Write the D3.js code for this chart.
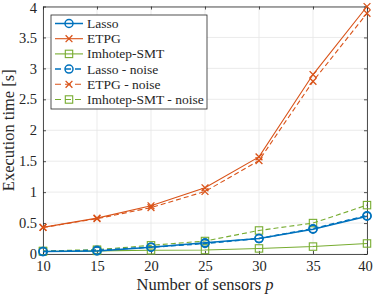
<!DOCTYPE html>
<html><head><meta charset="utf-8">
<script src="https://cdn.jsdelivr.net/npm/d3@7"></script>
<style>body{margin:0;background:#fff}svg{display:block}text{font-family:"Liberation Serif","DejaVu Serif",serif;fill:#262626}</style>
</head><body><svg id="c" width="374" height="295"></svg>
<script>
const sensors = [10, 15, 20, 25, 30, 35, 40];
const lasso = [0.04, 0.05, 0.11, 0.18, 0.25, 0.40, 0.61];
const etpg = [0.43, 0.58, 0.78, 1.07, 1.57, 2.90, 4.00];
const imhotep = [0.04, 0.05, 0.06, 0.065, 0.09, 0.12, 0.17];
const lassoNoise = [0.04, 0.06, 0.11, 0.17, 0.25, 0.41, 0.62];
const etpgNoise = [0.43, 0.57, 0.75, 1.01, 1.51, 2.79, 3.89];
const imhotepNoise = [0.05, 0.07, 0.14, 0.21, 0.38, 0.50, 0.79];
const xTicks = [10, 15, 20, 25, 30, 35, 40];
const yTicks = [0, 0.5, 1, 1.5, 2, 2.5, 3, 3.5, 4];
const seriesNames = ["Lasso", "ETPG", "Imhotep-SMT", "Lasso - noise", "ETPG - noise", "Imhotep-SMT - noise"];

const series = [
  {name: seriesNames[0], vals: lasso, color: "#0072BD", marker: "o", dash: null, w: 1.5},
  {name: seriesNames[1], vals: etpg, color: "#D95319", marker: "x", dash: null, w: 1.1},
  {name: seriesNames[2], vals: imhotep, color: "#77AC30", marker: "s", dash: null, w: 1.1},
  {name: seriesNames[3], vals: lassoNoise, color: "#0072BD", marker: "o", dash: "5,3", w: 1.5},
  {name: seriesNames[4], vals: etpgNoise, color: "#D95319", marker: "x", dash: "5,3", w: 1.1},
  {name: seriesNames[5], vals: imhotepNoise, color: "#77AC30", marker: "s", dash: "5,3", w: 1.1}
];

const L = 43, R = 367, T = 6.5, B = 254;
const x = d3.scaleLinear().domain([10, 40]).range([L, R]);
const y = d3.scaleLinear().domain([0, 4]).range([B, T]);
const svg = d3.select("#c");

// grid
const g = svg.append("g");
g.selectAll(".gx").data(xTicks).enter().append("line")
  .attr("x1", d => x(d)).attr("x2", d => x(d)).attr("y1", T).attr("y2", B)
  .attr("stroke", "#e6e6e6").attr("stroke-width", 0.8);
g.selectAll(".gy").data(yTicks).enter().append("line")
  .attr("y1", d => y(d)).attr("y2", d => y(d)).attr("x1", L).attr("x2", R)
  .attr("stroke", "#e6e6e6").attr("stroke-width", 0.8);

// axes
const fmt = d => String(d);
const ax = svg.append("g").attr("transform", `translate(0,${B})`)
  .call(d3.axisBottom(x).tickValues(xTicks).tickFormat(fmt).tickSizeInner(-3).tickSizeOuter(0).tickPadding(7));
const axT = svg.append("g").attr("transform", `translate(0,${T})`)
  .call(d3.axisTop(x).tickValues(xTicks).tickFormat("").tickSizeInner(-3).tickSizeOuter(0));
const ay = svg.append("g").attr("transform", `translate(${L},0)`)
  .call(d3.axisLeft(y).tickValues(yTicks).tickFormat(fmt).tickSizeInner(-3).tickSizeOuter(0).tickPadding(6));
const ayR = svg.append("g").attr("transform", `translate(${R},0)`)
  .call(d3.axisRight(y).tickValues(yTicks).tickFormat("").tickSizeInner(-3).tickSizeOuter(0));
[ax, axT, ay, ayR].forEach(a => {
  a.selectAll("path").attr("stroke", "#262626").attr("stroke-width", 0.8);
  a.selectAll("line").attr("stroke", "#262626").attr("stroke-width", 0.8);
  a.selectAll("text").attr("font-size", 14.5).attr("font-family", "Liberation Serif, serif").attr("fill", "#262626");
});
// keep the end labels inside the window
ax.selectAll(".tick text").filter(d => d === 40).attr("dx", "-2");
ay.selectAll(".tick text").filter(d => d === 4).attr("dy", "0.42em");

// lines
const line = d3.line().x((d, i) => x(sensors[i])).y(d => y(d));

function drawMarker(sel, m, color, cx, cy) {
  if (m === "o") {
    sel.append("circle").attr("cx", cx).attr("cy", cy).attr("r", 4)
      .attr("fill", "none").attr("stroke", color).attr("stroke-width", 1.5);
  } else if (m === "s") {
    sel.append("rect").attr("x", cx - 3.7).attr("y", cy - 3.7).attr("width", 7.4).attr("height", 7.4)
      .attr("fill", "none").attr("stroke", color).attr("stroke-width", 1.1);
  } else {
    const s = 3.4;
    sel.append("path").attr("d", `M${cx - s},${cy - s}L${cx + s},${cy + s}M${cx - s},${cy + s}L${cx + s},${cy - s}`)
      .attr("stroke", color).attr("stroke-width", 1.3).attr("fill", "none");
  }
}

const order = [2, 5, 1, 4, 0, 3];
order.forEach(i => {
  const s = series[i];
  const gg = svg.append("g");
  gg.append("path").datum(s.vals).attr("d", line).attr("fill", "none")
    .attr("stroke", s.color).attr("stroke-width", s.w)
    .attr("stroke-dasharray", s.dash);
  s.vals.forEach((v, j) => drawMarker(gg, s.marker, s.color, x(sensors[j]), y(v)));
});

// legend
const lx = 51, ly = 15, lw = 156, lh = 94;
const lg = svg.append("g");
lg.append("rect").attr("x", lx).attr("y", ly).attr("width", lw).attr("height", lh)
  .attr("fill", "#fff").attr("stroke", "#262626").attr("stroke-width", 0.8);
series.forEach((s, i) => {
  const yy = ly + 8.5 + i * 15.2;
  lg.append("line").attr("x1", lx + 4).attr("x2", lx + 32).attr("y1", yy).attr("y2", yy)
    .attr("stroke", s.color).attr("stroke-width", s.w).attr("stroke-dasharray", s.dash ? "6,4" : null);
  drawMarker(lg, s.marker, s.color, lx + 18, yy);
  lg.append("text").attr("x", lx + 36).attr("y", yy + 4.5).attr("font-size", 13.5).text(s.name);
});

// axis labels
svg.append("text").attr("x", (L + R) / 2).attr("y", 290).attr("text-anchor", "middle")
  .attr("font-size", 16.5).html('Number of sensors <tspan font-style="italic">p</tspan>');
svg.append("text").attr("transform", `translate(14,${(T + B) / 2}) rotate(-90)`).attr("text-anchor", "middle")
  .attr("font-size", 16.5).text("Execution time [s]");
</script></body></html>
